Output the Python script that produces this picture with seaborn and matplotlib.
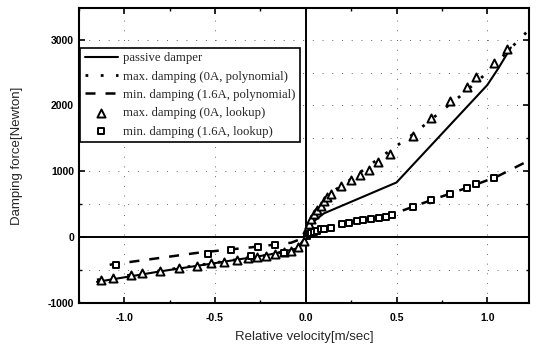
import numpy as np
import pandas as pd
import matplotlib
matplotlib.use("Agg")
import matplotlib.pyplot as plt
import seaborn as sns
from matplotlib.ticker import MultipleLocator

# ---- data: damper force vs. relative velocity ----
passive_v = [-1.15, -0.80, -0.50, -0.20, -0.05, 0.0, 0.04, 0.10, 0.50, 1.00, 1.06, 1.13]
passive_f = [-680, -520, -395, -265, -175, 0, 230, 360, 830, 2310, 2560, 2880]

maxpoly_v = [-1.15, -0.80, -0.50, -0.20, -0.06, 0.0, 0.02, 0.06, 0.12, 0.25, 0.40, 0.60, 0.75, 0.85, 1.00, 1.10, 1.23]
maxpoly_f = [-650, -510, -390, -270, -190, 0, 230, 430, 640, 880, 1190, 1580, 1920, 2140, 2500, 2790, 3150]

minpoly_v = [-1.08, -0.60, -0.30, -0.08, 0.0, 0.02, 0.10, 0.30, 0.50, 0.70, 0.90, 1.05, 1.13, 1.23]
minpoly_f = [-420, -240, -155, -85, 0, 55, 140, 250, 370, 570, 760, 915, 1025, 1165]

maxlut_v = [-1.13, -1.06, -0.96, -0.90, -0.80, -0.70, -0.60, -0.52, -0.45, -0.38, -0.32,
            -0.27, -0.22, -0.17, -0.12, -0.08, -0.04, -0.01,
            0.006, 0.018, 0.031, 0.046, 0.064, 0.082, 0.101, 0.119, 0.137, 0.196, 0.247,
            0.299, 0.348, 0.397, 0.463, 0.59, 0.69, 0.793, 0.888, 0.94, 1.035, 1.11]
maxlut_f = [-656, -626, -575, -540, -515, -464, -439, -400, -375, -350, -325,
            -300, -280, -255, -230, -210, -150, -60,
            117, 192, 268, 344, 409, 470, 545, 612, 662, 773, 864,
            950, 1026, 1136, 1268, 1541, 1809, 2071, 2279, 2430, 2652, 2855]

minlut_v = [-1.047, -0.54, -0.412, -0.265, -0.17, -0.30, -0.12,
            0.005, 0.016, 0.03, 0.044, 0.06, 0.082, 0.10, 0.137, 0.201, 0.238, 0.28,
            0.317, 0.357, 0.403, 0.44, 0.476, 0.592, 0.69, 0.793, 0.888, 0.94, 1.038]
minlut_f = [-429, -250, -190, -150, -125, -290, -235,
            15, 41, 60, 76, 95, 117, 125, 142, 192, 218, 238,
            253, 268, 288, 309, 335, 460, 571, 657, 748, 814, 894]

labels = ["passive damper",
          "max. damping (0A, polynomial)",
          "min. damping (1.6A, polynomial)",
          "max. damping (0A, lookup)",
          "min. damping (1.6A, lookup)"]

sns.set_style("ticks")
plt.rcParams["font.family"] = ["Liberation Sans", "DejaVu Sans"]

fig = plt.figure(figsize=(5.36, 3.49), dpi=100)
ax = fig.add_axes([0.147, 0.132, 0.840, 0.845])

# reference axes through the origin
ax.axhline(0, color="black", lw=1.4, zorder=1)
ax.axvline(0, color="black", lw=1.4, zorder=1)

sns.lineplot(x=passive_v, y=passive_f, ax=ax, color="black", lw=1.5,
             sort=False, label=labels[0], zorder=3)
sns.lineplot(x=maxpoly_v, y=maxpoly_f, ax=ax, color="black", lw=2.0,
             sort=False, label=labels[1], zorder=3, dashes=False,
             linestyle=(0, (1, 4.5)))
sns.lineplot(x=minpoly_v, y=minpoly_f, ax=ax, color="black", lw=1.8,
             sort=False, label=labels[2], zorder=3, dashes=False,
             linestyle=(0, (4, 4)))
sns.scatterplot(x=maxlut_v, y=maxlut_f, ax=ax, marker="^", s=34,
                facecolor="white", edgecolor="black", linewidth=1.4,
                label=labels[3], zorder=4)
sns.scatterplot(x=minlut_v, y=minlut_f, ax=ax, marker="s", s=24,
                facecolor="white", edgecolor="black", linewidth=1.4,
                label=labels[4], zorder=4)

ax.set_xlim(-1.25, 1.23)
ax.set_ylim(-1000, 3480)
ax.xaxis.set_major_locator(MultipleLocator(0.5))
ax.xaxis.set_minor_locator(MultipleLocator(0.25))
ax.yaxis.set_major_locator(MultipleLocator(1000))
ax.yaxis.set_minor_locator(MultipleLocator(500))
ax.set_xticks([-1.0, -0.5, 0.0, 0.5, 1.0])
ax.set_xticklabels(["-1.0", "-0.5", "0.0", "0.5", "1.0"])
ax.set_yticks([-1000, 0, 1000, 2000, 3000])
ax.set_yticklabels(["-1000", "0", "1000", "2000", "3000"])

ax.tick_params(which="both", direction="in", top=True, right=True,
               colors="black", labelsize=7.5)
ax.tick_params(which="major", length=4, width=1.2)
ax.tick_params(axis="x", which="major", pad=7)
ax.tick_params(which="minor", length=2.5, width=1.0)
for lab in ax.get_xticklabels() + ax.get_yticklabels():
    lab.set_fontweight("bold")

ax.grid(True, which="major", axis="x", color="0.4", lw=0.7, linestyle=(0, (1, 9)))
ax.grid(True, which="both", axis="y", color="0.4", lw=0.7, linestyle=(0, (1, 9)))

for sp in ax.spines.values():
    sp.set_linewidth(1.5)
    sp.set_color("black")

ax.set_xlabel("Relative velocity[m/sec]", fontsize=9.5, labelpad=6)
ax.set_ylabel("Damping force[Newton]", fontsize=9.5, labelpad=18)

leg = ax.legend(loc="upper left", bbox_to_anchor=(0.0, 0.87),
                prop={"family": "Liberation Serif", "size": 9.2},
                frameon=True, fancybox=False, edgecolor="black",
                framealpha=1, handlelength=2.6, handletextpad=0.4,
                labelspacing=0.5, borderpad=0.35, borderaxespad=0.1)
leg.get_frame().set_linewidth(1.2)

fig.savefig("out.png", dpi=100)
